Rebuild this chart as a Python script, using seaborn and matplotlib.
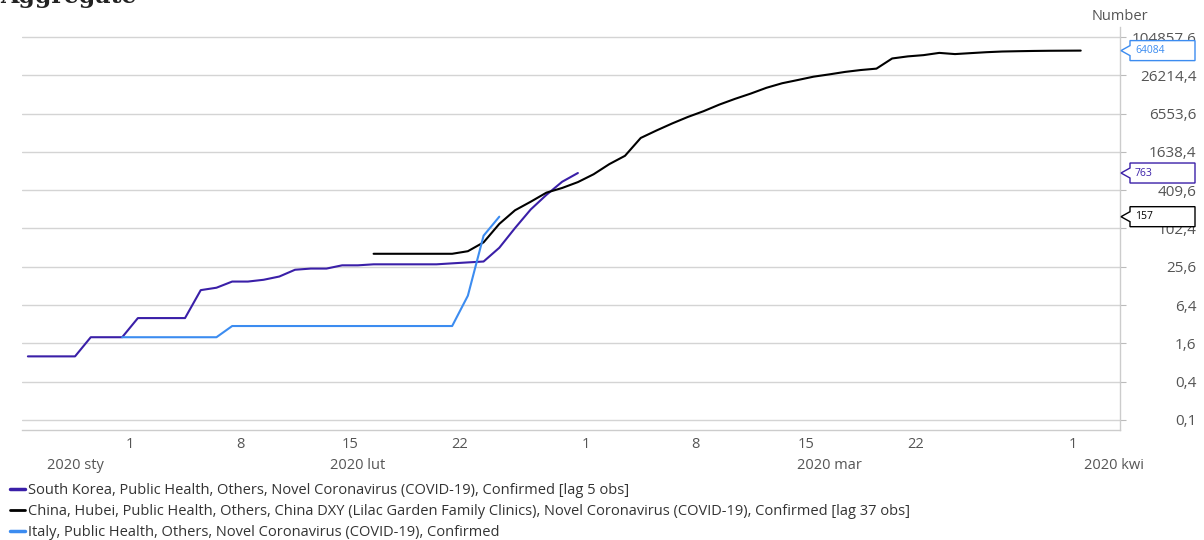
import matplotlib
matplotlib.use('Agg')
import pandas as pd
import seaborn as sns
import matplotlib.pyplot as plt
from matplotlib.lines import Line2D
from matplotlib.patches import Polygon
from matplotlib.ticker import NullLocator
from matplotlib.transforms import IdentityTransform

# series (daily observations, plotted at midday)
series_names = ['South Korea, Public Health, Others, Novel Coronavirus (COVID-19), Confirmed [lag 5 obs]',
                'China, Hubei, Public Health, Others, China DXY (Lilac Garden Family Clinics), Novel Coronavirus (COVID-19), Confirmed [lag 37 obs]',
                'Italy, Public Health, Others, Novel Coronavirus (COVID-19), Confirmed']
series_colors = ['#3a1fa8', '#000000', '#3c8cf0']

korea_start = '2020-01-25 12:00'
korea_values = [1, 1, 1, 1, 2, 2, 2, 4, 4, 4, 4, 11, 12, 15, 15, 16, 18, 23, 24, 24, 27, 27,
                28, 28, 28, 28, 28, 29, 30, 31, 51, 104, 204, 346, 556, 763]

china_start = '2020-02-16 12:00'
china_values = [41, 41, 41, 41, 41, 41, 45, 62, 121, 198, 270, 375, 444, 549, 729, 1052, 1423,
                2714, 3554, 4586, 5806, 7153, 9074, 11177, 13522, 16678, 19665, 22112, 24953,
                27100, 29631, 31728, 33366, 48206, 51986, 54406, 59000, 56500, 58500, 60500,
                62000, 62700, 63300, 63700, 63900, 64084]

italy_start = '2020-01-31 12:00'
italy_values = [2, 2, 2, 2, 2, 2, 2, 3, 3, 3, 3, 3, 3, 3, 3, 3, 3, 3, 3, 3, 3, 3, 9, 79, 157]

# last-value flags on the right axis
flag_values = [64084, 763, 157]
flag_colors = ['#3c8cf0', '#3a1fa8', '#000000']

y_ticks = [0.1, 0.4, 1.6, 6.4, 25.6, 102.4, 409.6, 1638.4, 6553.6, 26214.4, 104857.6]
x_ticks = ['2020-02-01', '2020-02-08', '2020-02-15', '2020-02-22', '2020-03-01',
           '2020-03-08', '2020-03-15', '2020-03-22', '2020-04-01']
x_tick_labels = ['1', '8', '15', '22', '1', '8', '15', '22', '1']
month_labels = ['2020 sty', '2020 lut', '2020 mar', '2020 kwi']
month_label_pos = ['2020-01-28 13:00', '2020-02-15 12:00', '2020-03-16 12:00', '2020-04-03 14:00']

frames = []
for name, start, values in zip(series_names,
                               [korea_start, china_start, italy_start],
                               [korea_values, china_values, italy_values]):
    frames.append(pd.DataFrame({'date': pd.date_range(start, periods=len(values), freq='D'),
                                'value': values,
                                'series': name}))
df = pd.concat(frames, ignore_index=True)

sns.set_style('white')
plt.rcParams['font.family'] = ['Open Sans', 'DejaVu Sans']

fig = plt.figure(figsize=(12.04, 5.4), dpi=100)
ax = fig.add_axes([22 / 1204, 1 - 430 / 540, 1098 / 1204, 403 / 540])

sns.lineplot(data=df, x='date', y='value', hue='series', hue_order=series_names,
             palette=dict(zip(series_names, series_colors)), estimator=None,
             legend=False, lw=1.5, ax=ax)

ax.set_yscale('log', base=4)
ax.set_ylim(0.0696, 150600)
ax.set_xlim(pd.Timestamp('2020-01-25 03:00'), pd.Timestamp('2020-04-04 00:00'))
ax.set_xlabel('')
ax.set_ylabel('')

ax.yaxis.tick_right()
ax.set_yticks(y_ticks)
ax.set_yticklabels([f'{v:.1f}'.replace('.', ',') for v in y_ticks])
ax.yaxis.set_minor_locator(NullLocator())
ax.tick_params(axis='y', length=4, color='#bbbbbb', labelcolor='#555555', labelsize=11, pad=51)
plt.setp(ax.get_yticklabels(), ha='right')

ax.set_xticks(pd.to_datetime(x_ticks))
ax.set_xticklabels(x_tick_labels)
ax.xaxis.set_minor_locator(NullLocator())
ax.tick_params(axis='x', length=3, color='#999999', labelcolor='#555555', labelsize=10.5, pad=2)

for pos, lab in zip(month_label_pos, month_labels):
    ax.text(pd.Timestamp(pos), -0.087, lab, transform=ax.get_xaxis_transform(),
            ha='center', va='center', fontsize=10.5, color='#555555')

ax.grid(axis='y', color='#d4d4d4', lw=1)
ax.grid(axis='x', visible=False)
for side in ['left', 'top']:
    ax.spines[side].set_visible(False)
for side in ['right', 'bottom']:
    ax.spines[side].set_color('#cccccc')
    ax.spines[side].set_linewidth(1)

fig.text(1120 / 1204, 1 - 17 / 540, 'Number', ha='center', va='center', fontsize=10.5, color='#555555')
fig.text(0.0, 1 - 3 / 540, 'Aggregate', ha='left', va='baseline', fontsize=17,
         fontweight='bold', family='DejaVu Serif', color='#222222')

# flags with the latest values
for val, col in zip(flag_values, flag_colors):
    x0, y0 = ax.get_yaxis_transform().transform((1, val))
    verts = [(x0 + 1, y0), (x0 + 10, y0 + 5), (x0 + 10, y0 + 10), (x0 + 75, y0 + 10),
             (x0 + 75, y0 - 10), (x0 + 10, y0 - 10), (x0 + 10, y0 - 5)]
    fig.add_artist(Polygon(verts, closed=True, transform=IdentityTransform(),
                           facecolor='white', edgecolor=col, lw=1, zorder=5))
    fig.text(x0 + 15, y0, str(val), transform=IdentityTransform(), fontsize=7.5,
             color=col, va='center', ha='left', zorder=6)

handles = [Line2D([], [], color=series_colors[0], lw=2.5),
           Line2D([], [], color=series_colors[1], lw=2),
           Line2D([], [], color=series_colors[2], lw=2.5)]
fig.legend(handles, series_names, loc='upper left', bbox_to_anchor=(0.008, 1 - 483 / 540),
           frameon=False, fontsize=10.5, handlelength=1.05, handletextpad=0.2,
           labelspacing=0.42, borderpad=0, borderaxespad=0, labelcolor='#333333')

fig.savefig('out.png', dpi=100)
